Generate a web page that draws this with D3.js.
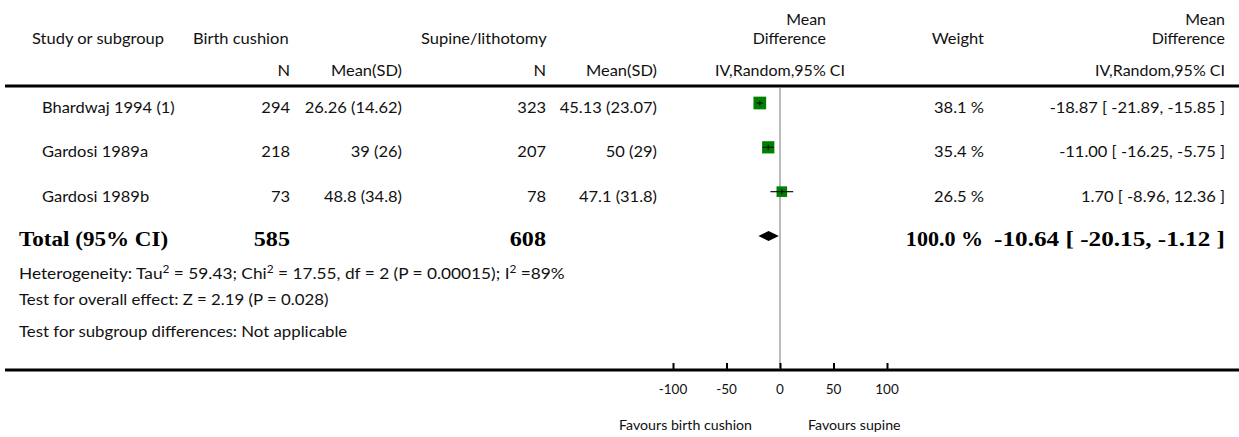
<!DOCTYPE html>
<html>
<head>
<meta charset="utf-8">
<script src="https://cdn.jsdelivr.net/npm/d3@7"></script>
<style>
  html, body { margin: 0; padding: 0; background: #fff; }
  svg { display: block; }
  .t { font-family: Lato, "Open Sans", sans-serif; font-size: 16px; fill: #111; }
  .h2 { font-family: Lato, "Open Sans", sans-serif; font-size: 15.5px; fill: #111; }
  .s { font-family: Lato, "Open Sans", sans-serif; font-size: 13.5px; fill: #111; }
  .b { font-family: "Liberation Serif", "DejaVu Serif", serif; font-weight: bold; font-size: 21px; fill: #000; }
</style>
</head>
<body>
<script>
// ---- data ----
const studies = ["Bhardwaj 1994 (1)", "Gardosi 1989a", "Gardosi 1989b"];
const n1 = [294, 218, 73];
const mean1 = [26.26, 39, 48.8];
const sd1 = [14.62, 26, 34.8];
const n2 = [323, 207, 78];
const mean2 = [45.13, 50, 47.1];
const sd2 = [23.07, 29, 31.8];
const md = [-18.87, -11.00, 1.70];
const ciLo = [-21.89, -16.25, -8.96];
const ciHi = [-15.85, -5.75, 12.36];
const weights = [38.1, 35.4, 26.5];
const totalN = [585, 608];
const totalMD = [-10.64, -20.15, -1.12]; // estimate, lower, upper
const totalWeight = 100.0;
const axisTicks = [-100, -50, 0, 50, 100];
const axisDomain = [-100, 100];
const favours = ["Favours birth cushion", "Favours supine"];

// ---- layout ----
const W = 1239, H = 437;
const svg = d3.select("body").append("svg").attr("width", W).attr("height", H);

const x = d3.scaleLinear().domain(axisDomain).range([673, 887]);
const rowY = d3.scalePoint().domain(studies.concat(["Total"])).range([113, 246]);
const sizeScale = d3.scaleSqrt().domain([0, d3.max(weights)]).range([0, 12.7]);

function txt(xp, yp, s, anchor, cls, sx) {
  return svg.append("text").attr("class", cls || "t")
    .attr("transform", `translate(${xp},${yp}) scale(${sx || 1.03},1)`)
    .attr("text-anchor", anchor || "start").text(s);
}
const f2 = v => v.toFixed(2);

// header
txt(32, 44, "Study or subgroup");
txt(193, 44, "Birth cushion");
txt(421, 44, "Supine/lithotomy");
txt(826, 25, "Mean", "end", "h2");
txt(826, 44, "Difference", "end", "h2");
txt(984, 44, "Weight", "end");
txt(1225, 25, "Mean", "end", "h2");
txt(1225, 44, "Difference", "end", "h2");
txt(290, 76, "N", "end");
txt(402, 76, "Mean(SD)", "end");
txt(546, 76, "N", "end");
txt(657, 76, "Mean(SD)", "end");
txt(x(0), 76, "IV,Random,95% CI", "middle", "t", 1);
txt(1225, 76, "IV,Random,95% CI", "end", "t", 1);

// rules
svg.append("line").attr("x1", 5).attr("x2", W).attr("y1", 86).attr("y2", 86)
  .attr("stroke", "#000").attr("stroke-width", 3);
svg.append("line").attr("x1", 5).attr("x2", W).attr("y1", 370).attr("y2", 370)
  .attr("stroke", "#000").attr("stroke-width", 3);

// zero line
svg.append("line").attr("x1", x(0)).attr("x2", x(0)).attr("y1", 88).attr("y2", 369)
  .attr("stroke", "#bbb").attr("stroke-width", 2);

// study rows
studies.forEach((s, i) => {
  const y = rowY(s);
  txt(42, y, s);
  txt(290, y, String(n1[i]), "end");
  txt(402, y, `${mean1[i]} (${sd1[i]})`, "end");
  txt(546, y, String(n2[i]), "end");
  txt(657, y, `${mean2[i]} (${sd2[i]})`, "end");
  txt(984, y, `${weights[i].toFixed(1)} %`, "end");
  txt(1225, y, `${f2(md[i])} [ ${f2(ciLo[i])}, ${f2(ciHi[i])} ]`, "end");

  const cy = y - 10;
  const sz = sizeScale(weights[i]);
  svg.append("rect").attr("x", x(md[i]) - sz / 2).attr("y", cy - sz / 2)
    .attr("width", sz).attr("height", sz).attr("fill", "#008000");
  svg.append("line").attr("x1", x(ciLo[i])).attr("x2", x(ciHi[i]))
    .attr("y1", cy).attr("y2", cy).attr("stroke", "#111").attr("stroke-width", 1.2);
  svg.append("line").attr("x1", x(md[i])).attr("x2", x(md[i]))
    .attr("y1", cy - 2.5).attr("y2", cy + 2.5).attr("stroke", "#111").attr("stroke-width", 1.2);
});

// total row
const ty = rowY("Total");
txt(19, ty, "Total (95% CI)", "start", "b", 1.1);
txt(290, ty, String(totalN[0]), "end", "b", 1.15);
txt(546, ty, String(totalN[1]), "end", "b", 1.15);
txt(983, ty, `${totalWeight.toFixed(1)} %`, "end", "b", 1.05);
txt(1225, ty, `${f2(totalMD[0])} [ ${f2(totalMD[1])}, ${f2(totalMD[2])} ]`, "end", "b", 1.2);
const dy = ty - 10;
svg.append("path")
  .attr("d", `M${x(totalMD[1])},${dy} L${x(totalMD[0])},${dy - 5} L${x(totalMD[2])},${dy} L${x(totalMD[0])},${dy + 5} Z`)
  .attr("fill", "#000");

// footnotes
function supText(yp, parts, sx) {
  const t = svg.append("text").attr("class", "t")
    .attr("transform", `translate(19,${yp}) scale(${sx},1)`);
  let raised = false;
  parts.forEach(p => {
    if (p.sup) {
      t.append("tspan").attr("dy", -6).attr("font-size", 11).text(p.sup);
      raised = true;
    } else {
      const ts = t.append("tspan").text(p.t);
      if (raised) { ts.attr("dy", 6); raised = false; }
    }
  });
}
supText(279, [{t: "Heterogeneity: Tau"}, {sup: "2"}, {t: " = 59.43; Chi"}, {sup: "2"},
  {t: " = 17.55, df = 2 (P = 0.00015); I"}, {sup: "2"}, {t: " =89%"}], 1.08);
txt(19, 305, "Test for overall effect: Z = 2.19 (P = 0.028)", "start", "t", 1.05);
txt(19, 337, "Test for subgroup differences: Not applicable", "start", "t", 1.05);

// axis
const axis = d3.axisTop(x).tickValues(axisTicks).tickSize(6).tickFormat("");
const ax = svg.append("g").attr("transform", "translate(0,369)").call(axis);
ax.select(".domain").remove();
ax.selectAll(".tick line").attr("stroke", "#000").attr("stroke-width", 2);
axisTicks.forEach(v => txt(x(v), 394, String(v), "middle", "s", 1));
txt(752, 430, favours[0], "end", "s", 1.05);
txt(808, 430, favours[1], "start", "s", 1.05);
</script>
</body>
</html>
